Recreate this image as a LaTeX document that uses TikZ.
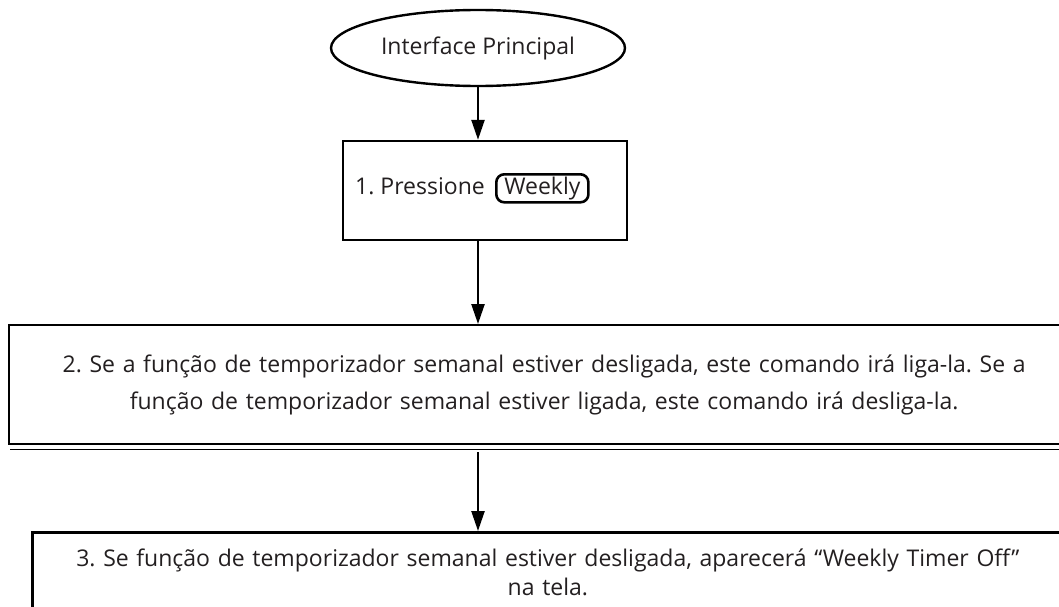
\documentclass[tikz,border=0pt]{standalone}
\usepackage{fontspec}
\setmainfont{Open Sans}
\usetikzlibrary{shapes.geometric,arrows.meta,positioning}
\definecolor{txtgray}{HTML}{231F20}
\tikzset{
  flowline/.style={line width=2.4pt,-{Triangle[length=20pt,width=13pt]}},
  stepbox/.style={draw,line width=2.4pt,rectangle,inner sep=0pt,align=center,text=txtgray},
  keybtn/.style={draw,line width=2.6pt,rounded corners=8pt,inner xsep=8pt,inner ysep=2.5pt,text=txtgray}
}
\frenchspacing
\begin{document}
\begin{tikzpicture}[x=1pt,y=-1pt,font=\fontsize{23}{37}\selectfont]
    \useasboundingbox (0,0) rectangle (1059,607);
    % start point
    \node[ellipse,draw,line width=2.4pt,minimum width=294pt,minimum height=76pt,inner sep=0pt,text=txtgray] (start) at (478,48) {Interface Principal};
    % step 1
    \node[stepbox,minimum width=284pt,minimum height=99pt] (press) at (485,190.5) {};
    \node[anchor=west,inner sep=0pt,text=txtgray] (presstxt) at (355,186) {1. Pressione};
    \node[keybtn,base right=10pt of presstxt] (weekly) {Weekly};
    % step 2
    \node[stepbox,anchor=north west,minimum width=1070pt,minimum height=119pt,text width=1040pt] (toggle) at (8,324)
        {2. Se a função de temporizador semanal estiver desligada, este comando irá liga-la. Se a\\
         função de temporizador semanal estiver ligada, este comando irá desliga-la.};
    \draw[line width=1.8pt] ([shift={(2,4)}]toggle.south west) -- ([shift={(0,4)}]toggle.south east);
    % step 3
    \node[stepbox,line width=2.8pt,anchor=north west,minimum width=1031pt,minimum height=80pt,text width=1020pt] (show) at (31,531)
        {3. Se função de temporizador semanal estiver desligada, aparecerá “Weekly Timer Off”\\[-8pt]
         na tela.};
    % connectors
    \draw[flowline] (start.south) -- (start.south |- press.north);
    \draw[flowline] (start.south |- press.south) -- (start.south |- toggle.north);
    \draw[flowline] ([shift={(0,7)}]start.south |- toggle.south) -- (start.south |- show.north);
\end{tikzpicture}
\end{document}
